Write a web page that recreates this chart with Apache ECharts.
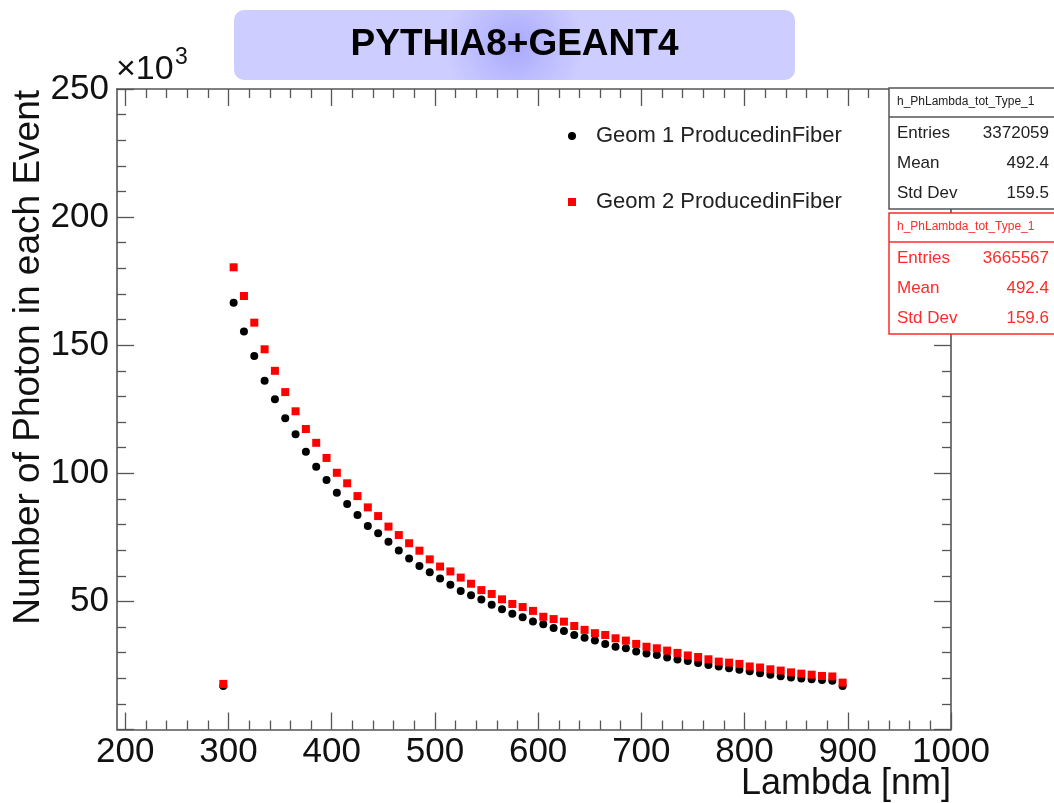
<!DOCTYPE html>
<html><head><meta charset="utf-8">
<script src="https://cdn.jsdelivr.net/npm/echarts@6/dist/echarts.min.js"></script>
<style>html,body{margin:0;padding:0;background:#fff}#c{width:1054px;height:803px}</style>
</head><body><div id="c"></div>
<script>
// Bin centres (nm)
const lambdaNm = [295,305,315,325,335,345,355,365,375,385,395,405,415,425,435,445,455,465,475,485,495,505,515,525,535,545,555,565,575,585,595,605,615,625,635,645,655,665,675,685,695,705,715,725,735,745,755,765,775,785,795,805,815,825,835,845,855,865,875,885,895];
// Photons per event, in units of 10^3
const geom1 = [17.0,166.6,155.3,145.8,136.1,128.9,121.5,115.2,108.4,102.6,97.4,92.4,88.0,83.7,79.4,76.6,73.3,69.9,66.7,63.8,61.4,58.9,56.5,54.1,52.4,50.7,48.7,46.9,45.2,43.8,42.2,41.1,39.6,38.4,36.9,35.8,34.7,33.4,32.3,31.7,30.4,29.7,29.1,28.1,27.3,26.7,26.0,25.2,24.6,23.9,23.3,22.7,22.0,21.4,20.8,20.3,19.9,19.6,19.3,19.0,17.0];
const geom2 = [17.8,180.4,169.2,158.8,148.4,140.0,131.7,124.2,117.3,111.9,106.0,100.2,96.1,91.1,86.7,83.3,79.2,75.9,72.7,69.8,66.4,63.6,61.7,59.3,56.9,54.4,52.9,50.8,49.0,47.8,46.3,44.0,43.1,42.1,40.4,38.9,37.6,36.9,35.6,34.7,33.4,32.3,31.7,30.8,29.9,28.9,28.3,27.4,26.5,26.1,25.6,24.6,24.2,23.5,23.0,22.3,21.8,21.4,20.9,20.7,18.3];
const seriesNames = ['Geom 1 ProducedinFiber','Geom 2 ProducedinFiber'];
const xTickLabels = [200,300,400,500,600,700,800,900,1000];
const yTickLabels = [50,100,150,200,250];
const statsTitle = 'h_PhLambda_tot_Type_1';
const statsLabels = ['Entries','Mean','Std Dev'];
const stats1Values = ['3372059','492.4','159.5'];
const stats2Values = ['3665567','492.4','159.6'];

const xMinor = [];
for (let v = 200; v <= 1000; v += 20) if (v % 100 !== 0) xMinor.push(v);

const FONT = 'Liberation Sans, Arial, Helvetica, sans-serif';
const AX = '#555';
const GL = 117, GR = 951, GT = 89, GB = 729.5;

const chart = echarts.init(document.getElementById('c'), null, {renderer:'canvas'});

function xAx(pos, minor, labels) {
  return {
    type:'value', min:192, max:1000, position:pos, gridIndex:0,
    axisLine:{show:!minor, lineStyle:{color:AX, width:1.6}},
    axisTick:{show:true, inside:true, length: minor?9:17, customValues: minor? xMinor : xTickLabels, lineStyle:{color:AX, width:1.3}},
    axisLabel:{show:labels, customValues:xTickLabels, fontSize:35, color:'#111', fontFamily:FONT, margin:5,
      formatter: v => String(v)},
    splitLine:{show:false}
  };
}
function yAx(pos, labels) {
  return {
    type:'value', min:0, max:250, interval:50, position:pos, gridIndex:0,
    axisLine:{show:true, lineStyle:{color:AX, width:1.6}},
    axisTick:{show:true, inside:true, length:17, lineStyle:{color:AX, width:1.3}},
    minorTick:{show:true, splitNumber:5, length:9, lineStyle:{color:AX, width:1.3}},
    axisLabel:{show:labels, showMinLabel:false, fontSize:35, color:'#111', fontFamily:FONT, margin:8,
      formatter: v => yTickLabels.indexOf(v) >= 0 ? String(v) : ''},
    splitLine:{show:false}
  };
}

function statsBox(top, color, values) {
  const fill = color==='#555' ? '#222' : color;
  const els = [
    {type:'rect', shape:{x:889, y:top, width:180, height:121}, style:{fill:'#fff', stroke:color, lineWidth:1.5}, z:100},
    {type:'line', shape:{x1:889, y1:top+29, x2:1054, y2:top+29}, style:{stroke:color, lineWidth:1.3}, z:101},
    {type:'text', x:897, y:top+14, style:{text:statsTitle, fontSize:12, fontFamily:FONT, fill, verticalAlign:'middle'}, z:101}
  ];
  statsLabels.forEach((lab, i) => {
    const y = top + 45 + i*30;
    els.push({type:'text', x:897, y:y, style:{text:lab, fontSize:17, fontFamily:FONT, fill, verticalAlign:'middle'}, z:101});
    els.push({type:'text', x:1049, y:y, style:{text:values[i], fontSize:17, fontFamily:FONT, fill, align:'right', verticalAlign:'middle'}, z:101});
  });
  return els;
}

const option = {
  animation:false,
  backgroundColor:'#fff',
  grid:{left:GL, right:1054-GR, top:GT, bottom:803-GB, containLabel:false},
  xAxis:[xAx('bottom', false, true), xAx('bottom', true, false), xAx('top', false, false), xAx('top', true, false)],
  yAxis:[yAx('left', true), yAx('right', false)],
  legend:{
    orient:'vertical', left:563, top:120, itemGap:44, itemWidth:8, itemHeight:8,
    textStyle:{fontSize:22, color:'#222', fontFamily:FONT, padding:[0,0,0,15]},
    data:[{name:seriesNames[0], icon:'circle'},{name:seriesNames[1], icon:'rect'}]
  },
  series:[
    {name:seriesNames[0], type:'scatter', xAxisIndex:0, yAxisIndex:0, symbol:'circle', symbolSize:8,
      itemStyle:{color:'#000', opacity:1}, data: lambdaNm.map((x,i)=>[x, geom1[i]]), z:3},
    {name:seriesNames[1], type:'scatter', xAxisIndex:0, yAxisIndex:0, symbol:'rect', symbolSize:8,
      itemStyle:{color:'#ff0000', opacity:1}, data: lambdaNm.map((x,i)=>[x, geom2[i]]), z:4}
  ],
  graphic:[
    {type:'rect', shape:{x:234, y:10, width:561, height:70, r:10}, z:100,
      style:{fill:{type:'radial', x:0.5, y:0.5, r:1.0, colorStops:[{offset:0, color:'#a8a8fb'},{offset:0.5, color:'#bcbcff'},{offset:1, color:'#cdcdff'}]}}},
    {type:'text', x:514.5, y:45, z:101, style:{text:'PYTHIA8+GEANT4', fontSize:37, fontWeight:'bold', fontFamily:FONT, fill:'#000', align:'center', verticalAlign:'middle'}},
    {type:'text', x:116, y:70, z:101, style:{text:'×10', fontSize:34, fontFamily:FONT, fill:'#111', verticalAlign:'middle'}},
    {type:'text', x:175, y:58, z:101, style:{text:'3', fontSize:23, fontFamily:FONT, fill:'#111', verticalAlign:'middle'}},
    {type:'text', x:951, y:784, z:101, style:{text:'Lambda [nm]', fontSize:36, fontFamily:FONT, fill:'#111', align:'right', verticalAlign:'middle'}},
    {type:'text', x:29, y:90, rotation:Math.PI/2, z:101, style:{text:'Number of Photon in each Event', fontSize:37, fontFamily:FONT, fill:'#111', align:'right', verticalAlign:'middle'}},
    ...statsBox(88, '#555', stats1Values),
    ...statsBox(213, '#ff2a2a', stats2Values)
  ]
};
chart.setOption(option);
</script>
</body></html>
